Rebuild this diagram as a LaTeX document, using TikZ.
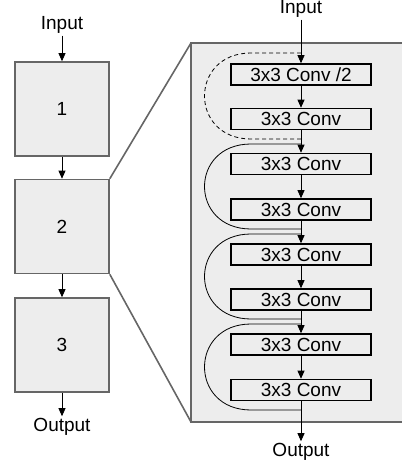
\documentclass[tikz,border=0pt]{standalone}
\usepackage{fontspec}
\setmainfont{Liberation Sans}
\usetikzlibrary{arrows.meta}
\begin{document}
\begin{tikzpicture}[x=1pt,y=-1pt,font=\fontsize{19}{22}\selectfont,
	blk/.style={draw=black!60,line width=1.6pt,fill=black!7,minimum width=94pt,minimum height=94pt,inner sep=0pt},
	conv/.style={draw=black,line width=1.6pt,fill=black!7,minimum width=140pt,minimum height=21pt,inner sep=0pt},
	lbl/.style={inner sep=2pt},
	arr/.style={-{Triangle[length=8pt,width=7pt]},line width=0.8pt}]
	\useasboundingbox (0,0) rectangle (401,465);
		\fill[black!7] (191,43) rectangle (405,422);
		\draw[black!60,line width=2pt] (405,43) -- (191,43) -- (191,422) -- (405,422);
		\node[lbl] (in) at (62,25) {Input};
		\node[blk] (b1) at (62,109) {1};
		\node[blk] (b2) at (62,226.5) {2};
		\node[blk] (b3) at (62,345) {3};
		\node[lbl] (out) at (62,427) {Output};
		\draw[black!60,line width=1.6pt] (b2.north east) -- (191,43);
		\draw[black!60,line width=1.6pt] (b2.south east) -- (191,422);
		\draw[arr] (in) -- (b1);
		\draw[arr] (b1) -- (b2);
		\draw[arr] (b2) -- (b3);
		\draw[arr] (b3) -- (out);
		\node[lbl] (in2) at (301,9) {Input};
		\node[conv] (c1) at (301,74.5) {3x3 Conv /2};
		\node[conv] (c2) at (301,119) {3x3 Conv};
		\node[conv] (c3) at (301,164) {3x3 Conv};
		\node[conv] (c4) at (301,209.5) {3x3 Conv};
		\node[conv] (c5) at (301,254.5) {3x3 Conv};
		\node[conv] (c6) at (301,299.5) {3x3 Conv};
		\node[conv] (c7) at (301,344.5) {3x3 Conv};
		\node[conv] (c8) at (301,390) {3x3 Conv};
		\node[lbl] (out2) at (301,452) {Output};
		\coordinate (s1) at (301,53);
		\coordinate (j1) at (301,139);
		\coordinate (s2) at (301,144);
		\coordinate (j2) at (301,229);
		\coordinate (s3) at (301,234);
		\coordinate (j3) at (301,319);
		\coordinate (s4) at (301,324);
		\coordinate (j4) at (301,410);
		\draw[dash pattern=on 4pt off 3pt,line width=0.8pt] (s1) -- (251,53) .. controls (189,53) and (189,139) .. (251,139) -- (j1);
		\draw[line width=0.8pt] (s2) -- (251,144) .. controls (189,144) and (189,229) .. (251,229) -- (j2);
		\draw[line width=0.8pt] (s3) -- (251,234) .. controls (189,234) and (189,319) .. (251,319) -- (j3);
		\draw[line width=0.8pt] (s4) -- (251,324) .. controls (189,324) and (189,410) .. (251,410) -- (j4);
		\draw[arr] (in2) -- (c1);
		\draw[arr] (c1) -- (c2);
		\draw[arr] (c2) -- (c3);
		\draw[arr] (c3) -- (c4);
		\draw[arr] (c4) -- (c5);
		\draw[arr] (c5) -- (c6);
		\draw[arr] (c6) -- (c7);
		\draw[arr] (c7) -- (c8);
		\draw[arr] (c8) -- (out2);
	\end{tikzpicture}
\end{document}
